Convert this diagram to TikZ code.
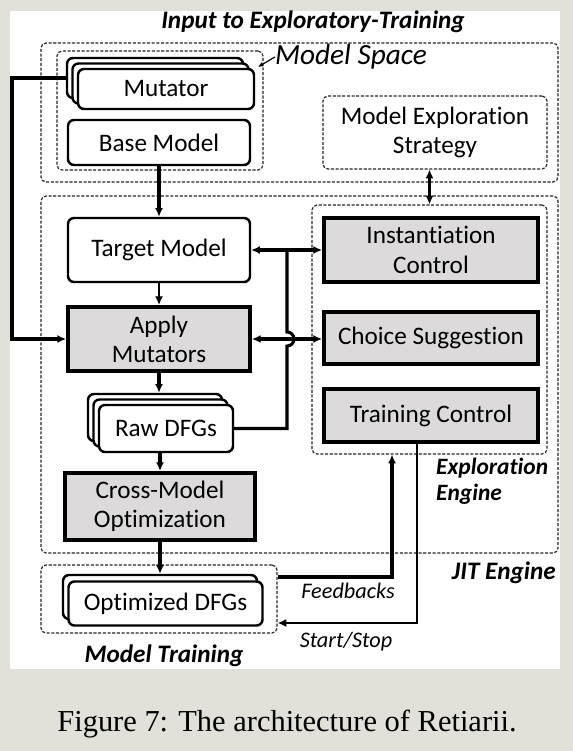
\documentclass[tikz,border=0pt]{standalone}
\usepackage{fontspec}
\setmainfont{Carlito}[Ligatures=NoCommon]
\newfontfamily\capfont{Liberation Serif}
\usetikzlibrary{arrows.meta}
\newdimen\pxu
\pxu=0.3mm
\definecolor{pagegray}{RGB}{225,225,218}
\definecolor{boxgray}{RGB}{220,218,219}

\begin{document}
\begin{tikzpicture}[x=0.3mm,y=-0.3mm,
    every node/.style={font=\fontsize{21.5}{25}\selectfont, align=center, inner sep=0pt},
    wbox/.style={draw, fill=white, line width=2.1pt, rounded corners=1.8mm},
    gbox/.style={draw, fill=boxgray, line width=3.4pt},
    dbox/.style={draw=black!85, dash pattern=on 2.6pt off 1.4pt, line width=1pt, rounded corners=1.5mm},
    conn/.style={line width=2.6pt, -{Latex[length=2.6mm,width=2.4mm]}},
    both/.style={line width=2.6pt, {Latex[length=2.6mm,width=2.4mm]}-{Latex[length=2.6mm,width=2.4mm]}},
    bold label/.style={font=\fontsize{21.5}{25}\selectfont\bfseries\itshape},
    side label/.style={font=\fontsize{19}{22}\selectfont\itshape}]
    \fill[pagegray] (0,0) rectangle (573,751);
    \fill[white] (10,11) rectangle (560,669);
    \useasboundingbox (0,0) rectangle (573,751);

    \node[bold label] (title) at (313,22) {Input to Exploratory-Training};
    \node[dbox, minimum width=517\pxu, minimum height=139\pxu] (input) at (299.5,112.5) {};
    \node[dbox, minimum width=206\pxu, minimum height=119\pxu] (space) at (160,110.5) {};
    \node[font=\fontsize{25}{30}\selectfont\itshape] (spacelabel) at (351,57) {Model Space};
    \coordinate (spacecorner) at (258,67);
    \node[wbox, minimum width=176\pxu, minimum height=40\pxu] (mutator3) at (155,78) {};
    \node[wbox, minimum width=176\pxu, minimum height=40\pxu] (mutator2) at (160.5,83.5) {};
    \node[wbox, minimum width=176\pxu, minimum height=40\pxu] (mutator) at (166,89) {Mutator};
    \node[wbox, minimum width=182\pxu, minimum height=45\pxu] (base) at (159,142.5) {Base Model};
    \node[dbox, minimum width=224\pxu, minimum height=73\pxu] (strategy) at (435,132.5) {Model Exploration\\Strategy};

    \node[dbox, minimum width=517\pxu, minimum height=357\pxu] (jit) at (299.5,374.5) {};
    \node[bold label, anchor=east] (jitlabel) at (556,573) {JIT Engine};
    \node[dbox, minimum width=235\pxu, minimum height=249\pxu] (explore) at (429.5,329.5) {};
    \node[bold label, font=\fontsize{20}{22}\selectfont\bfseries\itshape, anchor=west, align=left] (explorelabel) at (436,481) {Exploration\\Engine};
    \node[wbox, minimum width=182\pxu, minimum height=64\pxu] (target) at (159,250) {Target Model};
    \node[gbox, minimum width=182\pxu, minimum height=64\pxu] (apply) at (159,339) {Apply\\Mutators};
    \node[wbox, minimum width=134\pxu, minimum height=47\pxu] (raw3) at (155,417.5) {};
    \node[wbox, minimum width=134\pxu, minimum height=47\pxu] (raw2) at (160.5,423) {};
    \node[wbox, minimum width=134\pxu, minimum height=47\pxu] (raw) at (166,428.5) {Raw DFGs};
    \node[gbox, minimum width=190\pxu, minimum height=67\pxu] (cross) at (160,506.5) {Cross-Model\\Optimization};
    \node[gbox, minimum width=214\pxu, minimum height=64\pxu] (inst) at (431,250) {Instantiation\\Control};
    \node[gbox, minimum width=214\pxu, minimum height=52\pxu] (choice) at (431,338) {Choice Suggestion};
    \node[gbox, minimum width=214\pxu, minimum height=53\pxu] (trainctl) at (431,415.5) {Training Control};

    \node[dbox, minimum width=236\pxu, minimum height=68\pxu] (training) at (159,599) {};
    \node[bold label] (traininglabel) at (164,656) {Model Training};
    \node[wbox, minimum width=194\pxu, minimum height=44\pxu] (optimized2) at (160,597) {};
    \node[wbox, minimum width=194\pxu, minimum height=44\pxu] (optimized) at (165.5,603.5) {Optimized DFGs};
    \node[side label] (feedlabel) at (348,591) {Feedbacks};
    \node[side label] (startlabel) at (346,642) {Start/Stop};
    \node[font=\capfont\fontsize{26}{30}\selectfont] (caption) at (287,724) {Figure 7: The architecture of Retiarii.};

    \coordinate (hop) at (287,339);
    \coordinate (feed) at (392,577);
    \coordinate (start) at (417,623);
    \coordinate (left) at (12,0);

    \draw[line width=1pt, -{Latex[length=1.6mm,width=1.4mm]}] (spacelabel.west) -- (spacecorner);
    \draw[conn] (base) -- (target);
    \draw[conn, line width=1.8pt] (target) -- (apply);
    \draw[conn, line width=3.4pt] (apply.south) -- (apply.south |- raw3.north);
    \draw[conn] (raw.south -| cross.north) -- (cross.north);
    \draw[conn, line width=3.4pt] (cross.south) -- (cross.south |- optimized2.north);
    \draw[conn] (mutator3.west) -- (mutator3.west -| left) |- (apply.west);
    \draw[both] (target.east) -- (inst.west);
    \draw[both] (apply.east) -- (apply.east -| choice.west);
    \draw[line width=2.6pt] (raw.east) -| ([yshift=-2.1mm]hop) arc[start angle=90, end angle=-90, radius=7] -- (hop |- target.east);
    \draw[both] (explore.north |- strategy.south) -- (explore.north);
    \draw[conn] (training.east |- feed) -- (feed) -- (feed |- explore.south);
    \draw[conn, line width=1.9pt] (start |- trainctl.south) -- (start) -- (start -| training.east);
\end{tikzpicture}
\end{document}
